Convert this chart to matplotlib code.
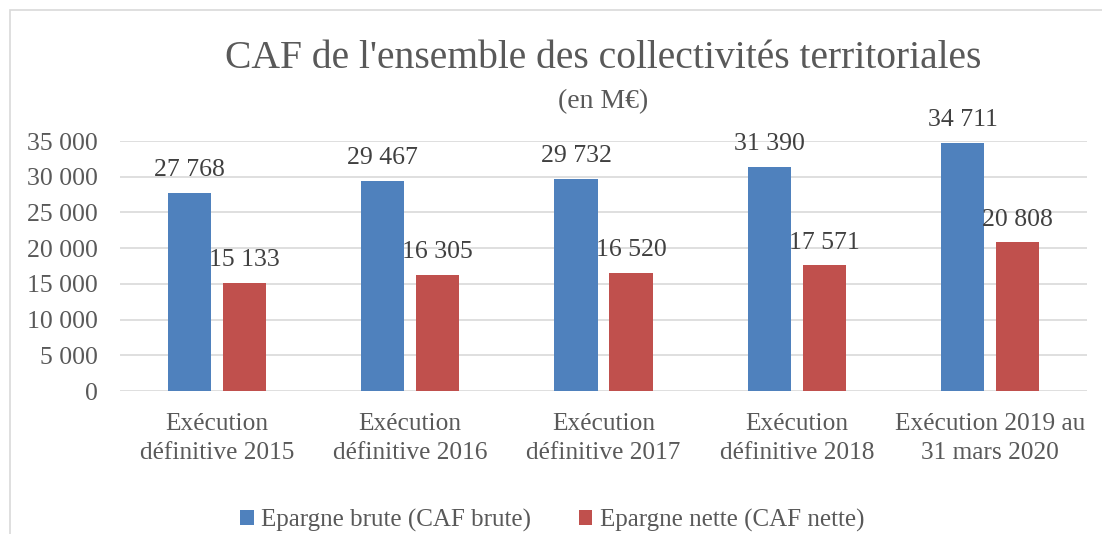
import matplotlib
matplotlib.use("Agg")
import matplotlib.pyplot as plt
from matplotlib.patches import Rectangle
import numpy as np

categories = ["Exécution\ndéfinitive 2015", "Exécution\ndéfinitive 2016", "Exécution\ndéfinitive 2017",
              "Exécution\ndéfinitive 2018", "Exécution 2019 au\n31 mars 2020"]
brute = [27768, 29467, 29732, 31390, 34711]
nette = [15133, 16305, 16520, 17571, 20808]
series_names = ["Epargne brute (CAF brute)", "Epargne nette (CAF nette)"]
yticks = [0, 5000, 10000, 15000, 20000, 25000, 30000, 35000]

BLUE = "#4F81BD"
RED = "#C0504D"
TXT = "#595959"
FONT = "Liberation Serif"

plt.rcParams['font.family'] = [FONT, 'DejaVu Serif']

W, H = 1102, 534
fig = plt.figure(figsize=(W / 100, H / 100), dpi=100)

# outer chart border
fig.patches.append(Rectangle((10 / W, -0.1), 1.2, (H - 10) / H + 0.1, transform=fig.transFigure,
                             fill=False, edgecolor="#D9D9D9", linewidth=1.2))

ax = fig.add_axes([120 / W, (H - 391) / H, (1087 - 120) / W, 250 / H])
x = np.arange(len(categories))
w = 0.223
off = 0.1425

def fmt(v):
    return f"{v:,}".replace(",", " ")

b1 = ax.bar(x - off, brute, w, color=BLUE, label=series_names[0], zorder=3)
b2 = ax.bar(x + off, nette, w, color=RED, label=series_names[1], zorder=3)
for bars, vals in ((b1, brute), (b2, nette)):
    for rect, v in zip(bars, vals):
        ax.annotate(fmt(v), (rect.get_x() + rect.get_width() / 2, v), xytext=(0, 8.5),
                    textcoords="offset points", ha="center", va="bottom", fontsize=18.5, color="#404040")

ax.set_xlim(-0.5, len(categories) - 0.5)
ax.set_ylim(0, 35000)
ax.set_yticks(yticks)
ax.set_yticklabels([fmt(v) for v in yticks], fontsize=18.5, color=TXT)
ax.set_xticks(x)
ax.set_xticklabels(categories, fontsize=18.3, color=TXT, linespacing=1.38)
ax.tick_params(axis="both", length=0)
ax.tick_params(axis="x", pad=16)
ax.tick_params(axis="y", pad=16)
ax.grid(axis="y", color="#D9D9D9", linewidth=1.2, zorder=0)
for s in ax.spines.values():
    s.set_visible(False)

fig.text(603 / W, (H - 59) / H, "CAF de l'ensemble des collectivités territoriales", ha="center", va="center",
         fontsize=28.5, color=TXT)
fig.text(603 / W, (H - 102) / H, "(en M€)", ha="center", va="center", fontsize=20, color=TXT)

fig.legend(handles=[b1, b2], labels=series_names, loc="center", bbox_to_anchor=(552 / W, (H - 520) / H),
           ncol=2, frameon=False, fontsize=18, labelcolor=TXT, handlelength=0.55, handleheight=0.55,
           handletextpad=0.3, columnspacing=1.9)

fig.savefig("out.png", dpi=100)
